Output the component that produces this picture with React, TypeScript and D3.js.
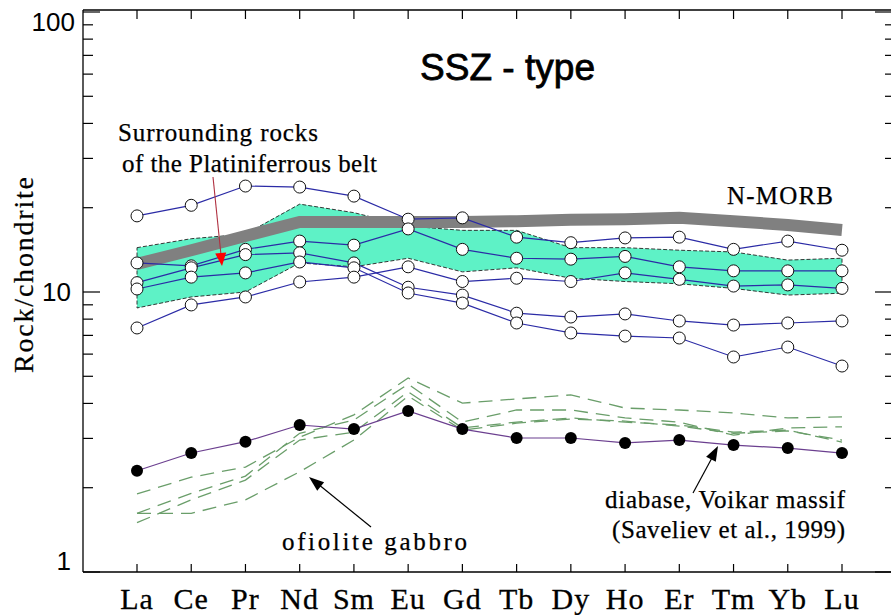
import React from "react";
import * as d3 from "d3";

const elements = ["La", "Ce", "Pr", "Nd", "Sm", "Eu", "Gd", "Tb", "Dy", "Ho", "Er", "Tm", "Yb", "Lu"];

// Surrounding rocks of the Platiniferrous belt (open circles)
const rock1 = [18.7, 20.4, 23.9, 23.7, 22.0, 18.2, 18.4, 15.7, 15.0, 15.6, 15.7, 14.2, 15.2, 14.1];
const rock2 = [12.7, 12.4, 14.2, 15.2, 14.7, 16.8, 14.2, 13.2, 13.1, 13.4, 12.3, 11.9, 11.9, 11.9];
const rock3 = [10.8, 12.2, 13.6, 13.8, 12.7, 10.4, 9.75, 8.4, 8.14, 8.35, 7.88, 7.62, 7.75, 7.88];
const rock4 = [10.25, 11.3, 11.7, 12.8, 12.2, 9.92, 9.13, 7.75, 7.14, 6.96, 6.85, 5.86, 6.36, 5.44];
const rock5 = [7.44, 8.99, 9.6, 10.86, 11.3, 12.3, 10.9, 11.2, 10.9, 11.7, 11.1, 10.5, 10.6, 10.3];

// N-MORB reference
const nmorb = [12.6, 14.1, 15.85, 17.8, 17.8, 17.8, 17.8, 17.9, 18.1, 18.2, 18.4, 17.9, 17.35, 16.65];

// SSZ field (cyan band)
const bandUpper = [14.4, 15.5, 16.1, 20.6, 19.2, 17.2, 16.6, 16.6, 14.4, 14.4, 14.1, 13.9, 13.0, 13.2];
const bandLower = [8.77, 9.6, 10.0, 12.7, 12.3, 13.2, 11.8, 12.2, 11.2, 10.9, 10.7, 10.3, 9.75, 9.9];

// Diabase, Voikar massif (filled circles)
const diabase = [2.3, 2.66, 2.92, 3.35, 3.24, 3.76, 3.24, 3.01, 3.01, 2.89, 2.96, 2.84, 2.77, 2.66];

// Ofiolite gabbro (green dashed)
const gabbro1 = [1.9, 2.18, 2.37, 3.03, 3.64, 4.93, 4.01, 4.15, 4.29, 3.85, 3.79, 3.7, 3.55, 3.58];
const gabbro2 = [1.62, 1.91, 2.2, 3.13, 3.49, 4.69, 3.43, 3.79, 3.79, 3.55, 3.43, 3.08, 3.27, 3.3];
const gabbro3 = [1.5, 1.81, 2.13, 2.96, 3.16, 4.4, 3.27, 3.43, 3.55, 3.43, 3.35, 3.16, 3.21, 2.91];
const gabbro4 = [1.62, 1.62, 1.81, 2.28, 2.96, 4.25, 3.21, 3.4, 3.52, 3.46, 3.32, 3.13, 3.19, 2.96];

const yTickLabels = [1, 10, 100];

const rocks = [rock1, rock2, rock3, rock4, rock5];
const gabbros = [gabbro1, gabbro2, gabbro3, gabbro4];

const W = 891;
const H = 615;
const left = 83;
const rightEdge = 891;
const top = 12;
const bottom = 572;

const SERIF = "'Liberation Serif', 'Times New Roman', serif";
const SANS = "'Liberation Sans', Arial, sans-serif";

export default function App() {
  const x = d3.scalePoint<string>().domain(elements).range([137, 842]);
  const y = d3.scaleLog().domain([1, 100]).range([bottom, top]);

  const line = d3
    .line<number>()
    .x((_, i) => x(elements[i]) as number)
    .y((d) => y(d));

  const area = d3
    .area<number>()
    .x((_, i) => x(elements[i]) as number)
    .y0((_, i) => y(bandLower[i]))
    .y1((_, i) => y(bandUpper[i]));

  const tickVals: number[] = [];
  for (let dec = 1; dec < 100; dec *= 10) {
    for (let k = 1; k < 10; k++) tickVals.push(dec * k);
  }
  tickVals.push(100);

  const arrowHead = (x1: number, y1: number, x2: number, y2: number, len: number, wid: number) => {
    const a = Math.atan2(y2 - y1, x2 - x1);
    const bx = x2 - len * Math.cos(a);
    const by = y2 - len * Math.sin(a);
    const px = (Math.sin(a) * wid) / 2;
    const py = (-Math.cos(a) * wid) / 2;
    return `M${x2},${y2}L${bx + px},${by + py}L${bx - px},${by - py}Z`;
  };

  const txt = { fontFamily: SERIF, fontSize: 25, fill: "#000", stroke: "#000", strokeWidth: 0.25 } as const;

  return (
    <svg
      width={W}
      height={H}
      viewBox={`0 0 ${W} ${H}`}
      style={{ position: "absolute", left: 0, top: 0, background: "#fff", display: "block" }}
    >
      <rect x={0} y={0} width={W} height={H} fill="#fff" />

      {/* cyan SSZ field */}
      <path d={area(bandUpper) || ""} fill="#5ef2c6" stroke="#222" strokeWidth={0.9} strokeDasharray="4,2" />

      {/* N-MORB gray band */}
      <path d={line(nmorb) || ""} fill="none" stroke="#808080" strokeWidth={12} strokeLinejoin="miter" />

      {/* gabbro dashed lines */}
      {gabbros.map((g, i) => (
        <path key={"g" + i} d={line(g) || ""} fill="none" stroke="#6a9e6a" strokeWidth={1.3} strokeDasharray="14,8" />
      ))}

      {/* rock lines */}
      {rocks.map((r, i) => (
        <path key={"r" + i} d={line(r) || ""} fill="none" stroke="#2b2ba6" strokeWidth={1.2} />
      ))}
      {rocks.map((r, i) =>
        r.map((v, j) => (
          <circle key={`c${i}-${j}`} cx={x(elements[j])} cy={y(v)} r={6} fill="#fff" stroke="#111" strokeWidth={1} />
        ))
      )}

      {/* diabase */}
      <path d={line(diabase) || ""} fill="none" stroke="#6b3f8f" strokeWidth={1.2} />
      {diabase.map((v, j) => (
        <circle key={"d" + j} cx={x(elements[j])} cy={y(v)} r={6} fill="#000" />
      ))}

      {/* axes frame */}
      <line x1={left} y1={top - 2} x2={left} y2={bottom} stroke="#000" strokeWidth={1.3} />
      <line x1={left} y1={top - 2} x2={rightEdge} y2={top - 2} stroke="#000" strokeWidth={1.3} />
      <line x1={left} y1={bottom} x2={rightEdge} y2={bottom} stroke="#000" strokeWidth={1.3} />

      {tickVals.map((v) => {
        const major = v === 1 || v === 10 || v === 100;
        return (
          <g key={"t" + v}>
            <line x1={left} x2={left + (major ? 17 : 10)} y1={y(v)} y2={y(v)} stroke="#000" strokeWidth={1.2} />
            <line x1={rightEdge} x2={rightEdge - (major ? 16 : 6)} y1={y(v)} y2={y(v)} stroke="#000" strokeWidth={1.2} />
          </g>
        );
      })}
      {elements.map((e) => (
        <g key={"xt" + e}>
          <line x1={x(e)} x2={x(e)} y1={top - 2} y2={top + 7} stroke="#000" strokeWidth={1.2} />
          <line x1={x(e)} x2={x(e)} y1={bottom} y2={bottom - 8} stroke="#000" strokeWidth={1.2} />
          <text x={x(e)} y={609} textAnchor="middle" fontFamily={SERIF} fontSize={30} letterSpacing={1} fill="#000" stroke="#000" strokeWidth={0.3}>
            {e}
          </text>
        </g>
      ))}

      {/* y tick labels */}
      {yTickLabels.map((v) => {
        let yy = y(v);
        if (v === 100) yy += 10;
        if (v === 1) yy -= 11;
        return (
          <text key={"yl" + v} x={v === 100 ? 75 : 71} y={yy} dy="0.36em" textAnchor="end" fontFamily={SANS} fontSize={26} fill="#000">
            {v}
          </text>
        );
      })}

      {/* y axis title */}
      <text
        transform="translate(33,275) rotate(-90)"
        textAnchor="middle"
        fontFamily={SERIF}
        fontSize={28}
        textLength={196}
        lengthAdjust="spacing"
        fill="#000"
        stroke="#000"
        strokeWidth={0.25}
      >
        Rock/chondrite
      </text>

      {/* title */}
      <text x={420} y={80} fontFamily={SANS} fontSize={37} fill="#000" stroke="#000" strokeWidth={0.8} textLength={175} lengthAdjust="spacing">
        SSZ - type
      </text>

      {/* Surrounding rocks annotation */}
      <text x={118} y={141} {...txt} textLength={200} lengthAdjust="spacing">
        Surrounding rocks
      </text>
      <text x={122} y={172} {...txt} textLength={255} lengthAdjust="spacing">
        of the Platiniferrous belt
      </text>
      <line x1={213} y1={177} x2={221} y2={255} stroke="#b03040" strokeWidth={1.1} />
      <path d={arrowHead(213, 177, 222, 266, 13, 11)} fill="#ff0000" />

      {/* N-MORB label */}
      <text x={727} y={204} {...txt} textLength={106} lengthAdjust="spacing">
        N-MORB
      </text>

      {/* ofiolite gabbro */}
      <text x={282} y={550} {...txt} textLength={185} lengthAdjust="spacing">
        ofiolite gabbro
      </text>
      <line x1={371} y1={527} x2={318} y2={484} stroke="#000" strokeWidth={1.2} />
      <path d={arrowHead(371, 527, 309, 477, 15, 11)} fill="#000" />

      {/* diabase */}
      <text x={605} y={508} {...txt} textLength={240} lengthAdjust="spacing">
        diabase, Voikar massif
      </text>
      <text x={612} y={538} {...txt} textLength={233} lengthAdjust="spacing">
        (Saveliev et al., 1999)
      </text>
      <line x1={693} y1={493} x2={713} y2={456} stroke="#000" strokeWidth={1.2} />
      <path d={arrowHead(693, 493, 718, 446, 15, 11)} fill="#000" />
    </svg>
  );
}
